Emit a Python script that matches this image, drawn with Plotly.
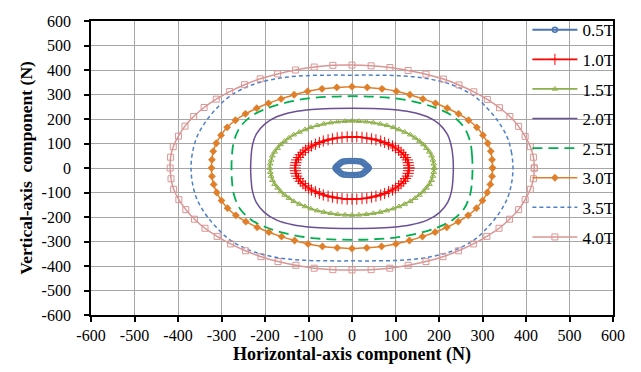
import plotly.graph_objects as go

# Force-locus loops per flux density: horizontal (x) and vertical (y) components in N
x_05 = [38, 36, 33, 29, 25, 20, 14, 7, 0, -7, -14, -20, -25, -29, -33, -36, -38,
        -36, -33, -29, -25, -20, -14, -7, 0, 7, 14, 20, 25, 29, 33, 36, 38]
y_05 = [0, 5, 10, 16, 22, 27, 28, 29, 29, 29, 28, 27, 22, 16, 10, 5, 0,
        -5, -10, -16, -22, -27, -28, -29, -29, -29, -28, -27, -22, -16, -10, -5, 0]

x_10 = [131, 130, 129, 127, 123, 119, 113, 107, 100, 93, 84, 75, 66, 55, 45, 34, 23, 11,
        0, -11, -23, -34, -45, -55, -66, -75, -84, -93, -100, -107, -113, -119, -123, -127, -129, -130,
        -131, -130, -129, -127, -123, -119, -113, -107, -100, -93, -84, -75, -66, -55, -45, -34, -23, -11,
        0, 11, 23, 34, 45, 55, 66, 75, 84, 93, 100, 107, 113, 119, 123, 127, 129, 130, 131]
y_10 = [0, 11, 22, 33, 43, 54, 64, 73, 82, 90, 97, 104, 110, 115, 119, 123, 125, 127,
        127, 127, 125, 123, 119, 115, 110, 104, 97, 90, 82, 73, 64, 54, 43, 33, 22, 11,
        0, -11, -22, -33, -43, -54, -64, -73, -82, -90, -97, -104, -110, -115, -119, -123, -125, -127,
        -127, -127, -125, -123, -119, -115, -110, -104, -97, -90, -82, -73, -64, -54, -43, -33, -22, -11, 0]

x_15 = [189, 188, 186, 183, 178, 171, 164, 155, 145, 134, 121, 108, 95, 80, 65, 49, 33, 16,
        0, -16, -33, -49, -65, -80, -95, -108, -121, -134, -145, -155, -164, -171, -178, -183, -186, -188,
        -189, -188, -186, -183, -178, -171, -164, -155, -145, -134, -121, -108, -95, -80, -65, -49, -33, -16,
        0, 16, 33, 49, 65, 80, 95, 108, 121, 134, 145, 155, 164, 171, 178, 183, 186, 188, 189]
y_15 = [0, 17, 33, 50, 66, 81, 96, 110, 123, 136, 147, 157, 166, 174, 180, 185, 189, 191,
        192, 191, 189, 185, 180, 174, 166, 157, 147, 136, 123, 110, 96, 81, 66, 50, 33, 17,
        0, -17, -33, -50, -66, -81, -96, -110, -123, -136, -147, -157, -166, -174, -180, -185, -189, -191,
        -192, -191, -189, -185, -180, -174, -166, -157, -147, -136, -123, -110, -96, -81, -66, -50, -33, -17, 0]

x_20 = [233, 232, 228, 219, 200, 172, 135, 92, 46,
        0, -46, -92, -135, -172, -200, -220, -229, -232,
        -233, -232, -229, -220, -201, -173, -136, -93, -46,
        0, 46, 93, 136, 173, 201, 220, 229, 232, 233]
y_20 = [0, 45, 92, 138, 180, 210, 229, 239, 243,
        244, 243, 239, 229, 210, 180, 138, 92, 45,
        0, -46, -93, -140, -182, -213, -232, -242, -246,
        -247, -246, -242, -232, -213, -182, -140, -93, -46, 0]

x_25 = [277, 276, 272, 258, 232, 196, 152, 100, 50,
        0, -50, -100, -152, -196, -232, -258, -272, -276,
        -277, -276, -272, -258, -232, -196, -152, -100, -50,
        0, 50, 100, 152, 196, 232, 258, 272, 276, 277]
y_25 = [0, 50, 105, 165, 211, 243, 267, 284, 291,
        293, 291, 284, 267, 243, 211, 165, 105, 50,
        0, -50, -105, -165, -211, -243, -267, -284, -291,
        -293, -291, -284, -267, -243, -211, -165, -105, -50, 0]

x_30 = [323, 322, 319, 312, 301, 287, 268, 245, 219, 192, 163, 133, 102, 69, 35,
        0, -35, -69, -102, -133, -163, -192, -219, -245, -268, -287, -301, -312, -319, -322,
        -323, -322, -318, -311, -300, -286, -267, -244, -218, -191, -162, -132, -101, -68, -34,
        0, 34, 68, 101, 132, 162, 191, 218, 244, 267, 286, 300, 311, 318, 322, 323]
y_30 = [0, 34, 68, 101, 134, 166, 195, 221, 244, 264, 282, 299, 313, 323, 329,
        332, 329, 323, 313, 299, 282, 264, 244, 221, 195, 166, 134, 101, 68, 34,
        0, -34, -67, -100, -133, -164, -193, -219, -242, -262, -280, -296, -310, -320, -326,
        -329, -326, -320, -310, -296, -280, -262, -242, -219, -193, -164, -133, -100, -67, -34, 0]

x_35 = [370, 367, 357, 338, 314, 281, 229, 166, 105, 50,
        0, -50, -105, -166, -229, -281, -314, -338, -357, -367,
        -370, -367, -357, -338, -314, -281, -229, -166, -105, -50,
        0, 50, 105, 166, 229, 281, 314, 338, 357, 367, 370]
y_35 = [0, 60, 125, 185, 238, 293, 340, 367, 377, 379,
        379, 379, 377, 367, 340, 293, 238, 185, 125, 60,
        0, -60, -125, -185, -238, -293, -340, -367, -377, -379,
        -379, -379, -377, -367, -340, -293, -238, -185, -125, -60, 0]

x_40 = [419, 417, 410, 398, 383, 363, 339, 311, 280, 246, 210, 170, 129, 87, 44,
        0, -44, -87, -130, -171, -211, -247, -281, -312, -340, -364, -384, -399, -411, -417,
        -418, -416, -410, -398, -382, -362, -338, -310, -279, -245, -209, -170, -129, -87, -44,
        0, 44, 87, 129, 170, 209, 245, 279, 310, 338, 362, 383, 398, 410, 417, 419]
y_40 = [0, 44, 87, 129, 170, 210, 246, 280, 311, 339, 363, 383, 398, 410, 417,
        420, 419, 412, 400, 384, 364, 340, 312, 281, 247, 210, 171, 130, 87, 44,
        0, -44, -87, -129, -170, -209, -246, -279, -310, -338, -362, -382, -397, -409, -415,
        -416, -415, -409, -397, -382, -362, -338, -310, -279, -246, -209, -170, -129, -87, -44, 0]

tick_vals = [-600, -500, -400, -300, -200, -100, 0, 100, 200, 300, 400, 500, 600]
tick_text = ["-600", "-500", "-400", "-300", "-200", "-100", "0",
             "100", "200", "300", "400", "500", "600"]

FONT = "Times New Roman, Liberation Serif, serif"

fig = go.Figure()

fig.add_trace(go.Scatter(
    x=x_05, y=y_05, name="0.5T", mode="lines+markers", legendgroup="a",
    line=dict(color="#4A76B0", width=2),
    marker=dict(symbol="circle-open", size=5, color="#4A76B0", line=dict(width=1.5))))
fig.add_trace(go.Scatter(
    x=x_10, y=y_10, name="1.0T", mode="lines+markers", legendgroup="b",
    line=dict(color="#FF0000", width=1.8),
    marker=dict(symbol="cross-thin", size=8, color="#FF0000", line=dict(width=1, color="#FF0000"))))
fig.add_trace(go.Scatter(
    x=x_15, y=y_15, name="1.5T", mode="lines+markers", legendgroup="c",
    line=dict(color="#8EB04A", width=1.8),
    marker=dict(symbol="triangle-up-open", size=5, color="#8EB04A", line=dict(width=1))))
fig.add_trace(go.Scatter(
    x=x_20, y=y_20, name="2.0T", mode="lines", legendgroup="d",
    line=dict(color="#6A4F96", width=1.5, shape="spline", smoothing=1)))
fig.add_trace(go.Scatter(
    x=x_25, y=y_25, name="2.5T", mode="lines", legendgroup="e",
    line=dict(color="#00B050", width=1.8, dash="10px,6px", shape="spline", smoothing=1)))
fig.add_trace(go.Scatter(
    x=x_30, y=y_30, name="3.0T", mode="lines+markers", legendgroup="f",
    line=dict(color="#E07F2A", width=1.5, shape="spline", smoothing=0.6),
    marker=dict(symbol="diamond", size=6, color="#E07F2A")))
fig.add_trace(go.Scatter(
    x=x_35, y=y_35, name="3.5T", mode="lines", legendgroup="g",
    line=dict(color="#4F81C8", width=1.5, dash="4px,3px", shape="spline", smoothing=1)))
fig.add_trace(go.Scatter(
    x=x_40, y=y_40, name="4.0T", mode="lines+markers", legendgroup="h",
    line=dict(color="#D99694", width=1.5, shape="spline", smoothing=0.6),
    marker=dict(symbol="square-open", size=6, color="#D99694", line=dict(width=1))))

axis_common = dict(
    range=[-600, 600], tickvals=tick_vals, ticktext=tick_text, ticks="outside", ticklen=5,
    tickcolor="black", tickwidth=1.5,
    showgrid=True, gridcolor="#A6A6A6", gridwidth=1,
    showline=True, linecolor="black", linewidth=1.8, mirror=True,
    zeroline=False, tickfont=dict(family=FONT, size=16, color="black"),
)

fig.update_xaxes(**axis_common,
                 title=dict(text="<b>Horizontal-axis component (N)</b>",
                            font=dict(family=FONT, size=18, color="black"), standoff=2))
fig.update_yaxes(**axis_common, ticklabelstandoff=10,
                 title=dict(text="<b>Vertical-axis  component (N)</b>",
                            font=dict(family=FONT, size=17.5, color="black"), standoff=4))

fig.update_layout(
    width=641, height=372,
    margin=dict(l=91, r=28, t=15, b=57),
    paper_bgcolor="white", plot_bgcolor="white",
    font=dict(family=FONT, color="black"),
    legend=dict(x=0.836, y=1.03, xanchor="left", yanchor="top", maxheight=340,
                bgcolor="rgba(0,0,0,0)", tracegroupgap=4.5, itemwidth=45,
                font=dict(family=FONT, size=17, color="black")),
)

fig.write_html("out.html")
